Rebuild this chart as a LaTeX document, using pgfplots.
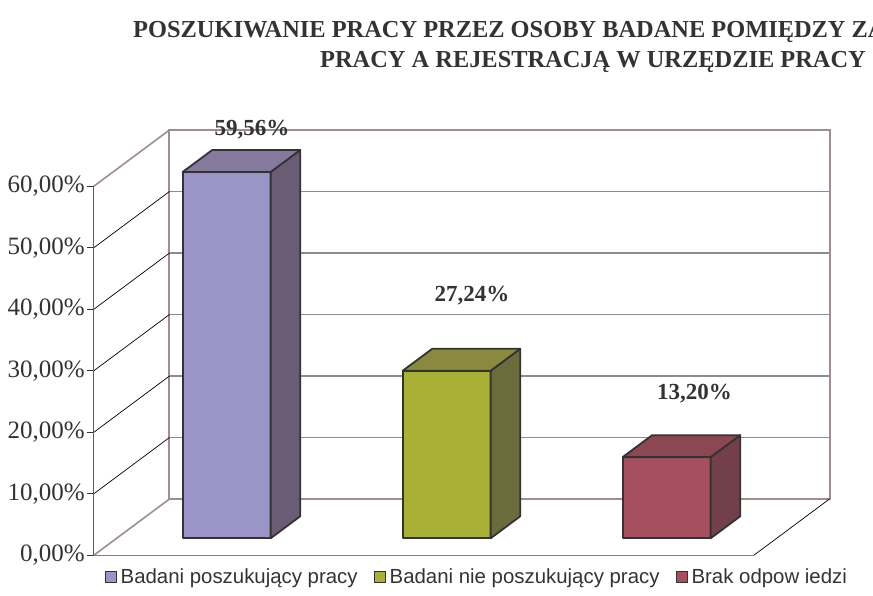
\documentclass[border=0pt]{standalone}
\usepackage{pgfplots}
\pgfplotsset{compat=1.18}
\usepackage{fontspec}
\setmainfont{Liberation Serif}
\newfontfamily\legendfont{Liberation Sans}
\definecolor{cAf}{HTML}{9B94C8}
\definecolor{cAs}{HTML}{6A5C74}
\definecolor{cAt}{HTML}{857A9E}
\definecolor{cBf}{HTML}{A8B036}
\definecolor{cBs}{HTML}{6B6B3C}
\definecolor{cBt}{HTML}{898A3E}
\definecolor{cCf}{HTML}{A6505F}
\definecolor{cCs}{HTML}{723F4A}
\definecolor{cCt}{HTML}{8C4852}
\definecolor{edge}{HTML}{333333}
\definecolor{wall}{HTML}{9E8E8E}
\definecolor{gridc}{HTML}{8C8C8C}
\definecolor{txt}{HTML}{333333}
\definecolor{floorc}{HTML}{808080}
\begin{document}
\begin{tikzpicture}
% ---------- 3D part: walls and bars ----------
\begin{axis}[
  at={(0,0)}, anchor=origin,
  x={(220bp,0bp)}, y={(76bp,56.5bp)}, z={(0bp,6.15bp)},
  xmin=-0.5, xmax=2.5, ymin=0, ymax=1, zmin=0, zmax=60,
  hide axis, clip=false,
]
% back wall
\addplot3[fill=white, draw=none] coordinates {(-0.5,1,0) (2.5,1,0) (2.5,1,60) (-0.5,1,60)} -- cycle;
% back gridlines
\pgfplotsinvokeforeach{10,20,30,40,50}{
  \addplot3[gridc, line width=1.5bp] coordinates {(-0.5,1,#1) (2.5,1,#1)};
}
% back wall border
\addplot3[wall, line width=2bp] coordinates {(-0.5,1,0) (2.5,1,0) (2.5,1,60) (-0.5,1,60)} -- cycle;
% left wall diagonals
\pgfplotsinvokeforeach{10,20,30,40,50}{
  \addplot3[black, line width=0.7bp] coordinates {(-0.5,0,#1) (-0.5,1,#1)};
}
\addplot3[wall, line width=1.6bp] coordinates {(-0.5,0,0) (-0.5,1,0)};
\addplot3[wall, line width=1.6bp] coordinates {(-0.5,0,60) (-0.5,1,60)};
% floor right edge
\addplot3[black, line width=0.7bp] coordinates {(2.5,0,0) (2.5,1,0)};
% bar 1: 59.56
\addplot3[fill=cAf, draw=edge, line width=1.8bp, line join=round] coordinates {(-0.2,0.304,0) (0.2,0.304,0) (0.2,0.304,59.56) (-0.2,0.304,59.56)} -- cycle;
\addplot3[fill=cAs, draw=edge, line width=1.8bp, line join=round] coordinates {(0.2,0.304,0) (0.2,0.693,0) (0.2,0.693,59.56) (0.2,0.304,59.56)} -- cycle;
\addplot3[fill=cAt, draw=edge, line width=1.8bp, line join=round] coordinates {(-0.2,0.304,59.56) (0.2,0.304,59.56) (0.2,0.693,59.56) (-0.2,0.693,59.56)} -- cycle;
% bar 2: 27.24
\addplot3[fill=cBf, draw=edge, line width=1.8bp, line join=round] coordinates {(0.8,0.304,0) (1.2,0.304,0) (1.2,0.304,27.24) (0.8,0.304,27.24)} -- cycle;
\addplot3[fill=cBs, draw=edge, line width=1.8bp, line join=round] coordinates {(1.2,0.304,0) (1.2,0.693,0) (1.2,0.693,27.24) (1.2,0.304,27.24)} -- cycle;
\addplot3[fill=cBt, draw=edge, line width=1.8bp, line join=round] coordinates {(0.8,0.304,27.24) (1.2,0.304,27.24) (1.2,0.693,27.24) (0.8,0.693,27.24)} -- cycle;
% bar 3: 13.20
\addplot3[fill=cCf, draw=edge, line width=1.8bp, line join=round] coordinates {(1.8,0.304,0) (2.2,0.304,0) (2.2,0.304,13.20) (1.8,0.304,13.20)} -- cycle;
\addplot3[fill=cCs, draw=edge, line width=1.8bp, line join=round] coordinates {(2.2,0.304,0) (2.2,0.693,0) (2.2,0.693,13.20) (2.2,0.304,13.20)} -- cycle;
\addplot3[fill=cCt, draw=edge, line width=1.8bp, line join=round] coordinates {(1.8,0.304,13.20) (2.2,0.304,13.20) (2.2,0.693,13.20) (1.8,0.693,13.20)} -- cycle;
\end{axis}
% ---------- 2D front plane: ticks, labels, legend ----------
\begin{axis}[
  at={(0,0)}, anchor=origin,
  x=220bp, y=6.15bp,
  xmin=-0.5, xmax=2.5, ymin=0, ymax=60,
  axis x line=bottom, axis y line=left,
  x axis line style={-, color=floorc, line width=1.3bp},
  y axis line style={-, color=edge!80, line width=1.3bp},
  xtick=\empty,
  ytick={0,10,20,30,40,50,60},
  yticklabels={0{,}00\%,10{,}00\%,20{,}00\%,30{,}00\%,40{,}00\%,50{,}00\%,60{,}00\%},
  tick align=outside, major tick length=6bp,
  ytick style={color=edge, line width=1bp},
  yticklabel style={font=\fontsize{25bp}{29bp}\selectfont, text=txt, inner sep=2.5bp},
  clip=false,
  legend style={at={(axis description cs:0.0174,-0.058)}, anchor=west, draw=none, fill=none,
    legend columns=-1, font=\legendfont\fontsize{20.4bp}{23bp}\selectfont, text=txt,
    inner sep=0pt, /tikz/every even column/.append style={column sep=13bp},
    nodes={inner sep=3.5bp}},
  legend image code/.code={\draw[#1, line width=1bp] (-3bp,-5.5bp) rectangle (8bp,5.5bp);},
]
\addlegendimage{fill=cAf, draw=edge}
\addlegendentry{Badani poszukujący pracy}
\addlegendimage{fill=cBf, draw=edge}
\addlegendentry{Badani nie poszukujący pracy}
\addlegendimage{fill=cCf, draw=edge}
\addlegendentry{Brak odpow iedzi}
\addplot[draw=none, mark=none, nodes near coords, point meta=explicit symbolic,
  every node near coord/.style={anchor=center, font=\fontsize{23bp}{27bp}\selectfont\bfseries, text=txt}]
  coordinates {(0.2205,69.2) [59,56\%] (1.2205,42.2) [27,24\%] (2.232,26.3) [13,20\%]};
\end{axis}
\node[anchor=base west, inner sep=0pt, text=txt, font=\fontsize{24.4bp}{28bp}\selectfont\bfseries] at (-70.5bp,517.5bp) {POSZUKIWANIE PRACY PRZEZ OSOBY BADANE POMIĘDZY ZA};
\node[anchor=base west, inner sep=0pt, text=txt, font=\fontsize{24.4bp}{28bp}\selectfont\bfseries] at (116.5bp,487.5bp) {PRACY A REJESTRACJĄ W URZĘDZIE PRACY};
\pgfresetboundingbox
\path[use as bounding box] (-203.5bp,-40.5bp) rectangle (669.5bp,555.5bp);
\end{tikzpicture}
\end{document}
